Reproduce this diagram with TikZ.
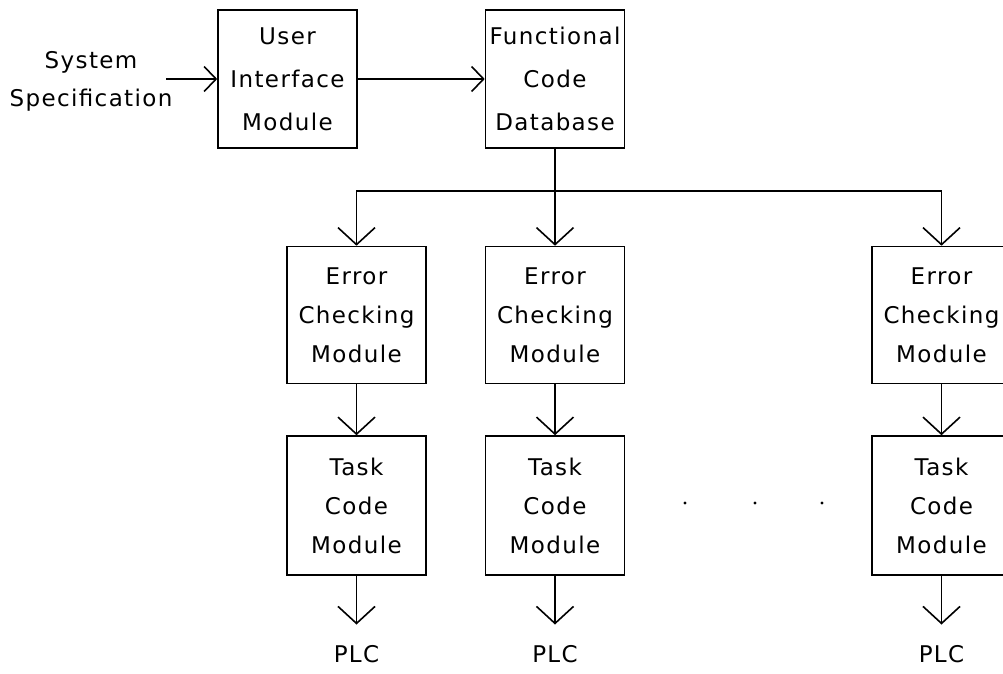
\documentclass[tikz,border=0pt]{standalone}
\usepackage{fontspec}
\newfontfamily\plotfont{DejaVu Sans}[LetterSpace=6]
\usetikzlibrary{arrows.meta}
\begin{document}
\begin{tikzpicture}[x=1pt,y=-1pt,line width=1.6pt,
  box/.style={draw,minimum width=139pt,minimum height=137pt,inner sep=0pt,
    align=center,font=\plotfont\fontsize{23}{39}\selectfont},
  topbox/.style={box,minimum height=138pt,font=\plotfont\fontsize{23}{43}\selectfont},
  lbl/.style={inner sep=0pt,align=center,font=\plotfont\fontsize{23}{38}\selectfont},
  varr/.style={-{Straight Barb[length=17pt,width=37pt]}},
  harr/.style={-{Straight Barb[length=12pt,width=25pt]}}]
\useasboundingbox (0,0) rectangle (1003,673);

% input and top row
\node[lbl] (spec) at (91,81) {System\\Specification};
\node[topbox] (ui) at (287.5,79) {User\\Interface\\Module};
\node[topbox] (fcd) at (555,79) {Functional\\Code\\Database};
\coordinate (in) at (166,79);

\draw[harr] (in) -- (ui.west);
\draw[harr] (ui.east) -- (fcd.west);

% error checking modules
\node[box] (ec1) at (356.5,315) {Error\\Checking\\Module};
\node[box] (ec2) at (555,315) {Error\\Checking\\Module};
\node[box] (ec3) at (941.5,315) {Error\\Checking\\Module};

% task code modules
\node[box,minimum height=139pt] (tc1) at (356.5,505.5) {Task\\Code\\Module};
\node[box,minimum height=139pt] (tc2) at (555,505.5) {Task\\Code\\Module};
\node[box,minimum height=139pt] (tc3) at (941.5,505.5) {Task\\Code\\Module};

% PLC targets
\node[lbl] (plc1) at (356.5,654) {PLC};
\node[lbl] (plc2) at (555,654) {PLC};
\node[lbl] (plc3) at (941.5,654) {PLC};

% distribution bus
\coordinate (bus) at (555,191);
\draw (fcd.south) -- (bus);
\draw[varr] (bus) -| (ec1.north);
\draw[varr] (bus) -- (ec2.north);
\draw[varr] (bus) -| (ec3.north);

% column flows
\foreach \i in {1,2,3}{
  \draw[varr] (ec\i.south) -- (tc\i.north);
  \draw[varr,shorten >=20pt] (tc\i.south) -- (plc\i.north);
}

% ellipsis between columns
\foreach \x in {685,755,822}
  \fill (\x,503) circle (1.6pt);
\end{tikzpicture}
\end{document}
